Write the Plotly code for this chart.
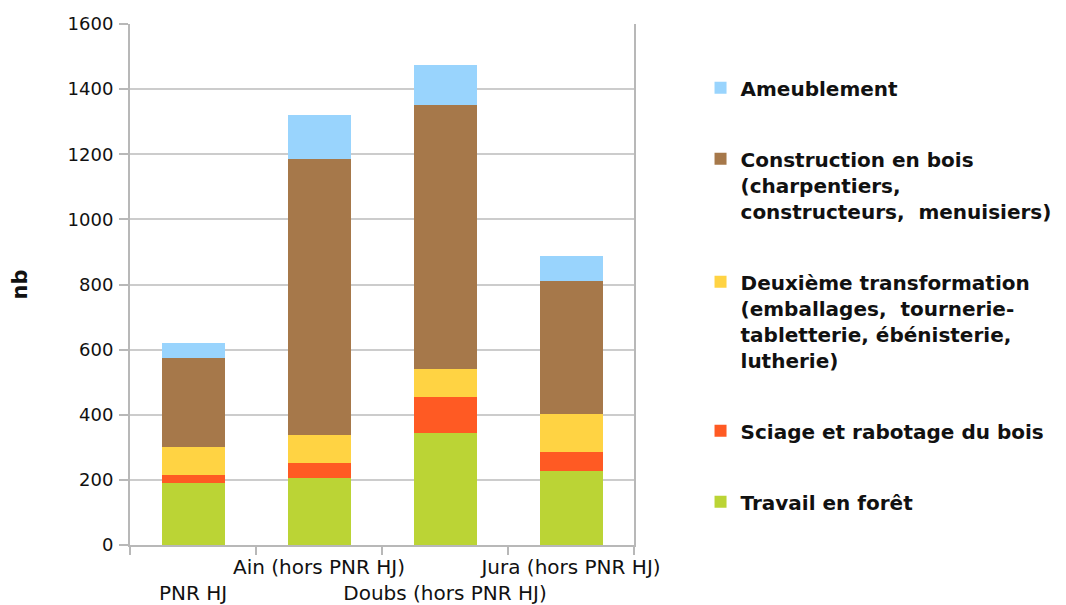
import plotly.graph_objects as go

categories = ["PNR HJ", "Ain (hors PNR HJ)", "Doubs (hors PNR HJ)", "Jura (hors PNR HJ)"]
tick_labels = ["\u00a0<br>PNR HJ", "Ain (hors PNR HJ)", "\u00a0<br>Doubs (hors PNR HJ)", "Jura (hors PNR HJ)"]

series_names = [
    "Travail en forêt",
    "Sciage et rabotage du bois",
    "Deuxième transformation<br>(emballages,  tournerie-<br>tabletterie, ébénisterie,<br>lutherie)",
    "Construction en bois<br>(charpentiers,<br>constructeurs,  menuisiers)",
    "Ameublement",
]
travail = [191, 205, 344, 227]
sciage = [24, 46, 110, 59]
deuxieme = [87, 87, 88, 117]
construction = [271, 846, 810, 409]
ameublement = [46, 136, 123, 75]
series_values = [travail, sciage, deuxieme, construction, ameublement]
colors = ["#bbd435", "#ff5a23", "#ffd343", "#a6784a", "#99d4fd"]

fig = go.Figure()
n = len(series_names)
for i, (name, vals, col) in enumerate(zip(series_names, series_values, colors)):
    fig.add_trace(go.Bar(
        x=categories, y=vals, name=name, marker=dict(color=col, line=dict(width=0)),
        legendgroup=f"g{i}", legendrank=n - i,
    ))

fig.update_layout(
    width=1066, height=605,
    barmode="stack", bargap=0.5,
    plot_bgcolor="white", paper_bgcolor="white",
    margin=dict(l=122, r=440, t=16, b=68, autoexpand=False),
    font=dict(family="DejaVu Sans", color="#111111"),
    showlegend=True,
    legend=dict(
        x=1.132, xanchor="left", y=0.915, yanchor="top",
        traceorder="grouped", tracegroupgap=42,
        valign="top", maxheight=600,
        font=dict(family="DejaVu Sans", size=20, color="#111111", weight="bold"),
    ),
    xaxis=dict(
        type="category", categoryorder="array", categoryarray=categories,
        tickmode="array", tickvals=categories, ticktext=tick_labels,
        tickangle=0, automargin=False,
        tickson="boundaries", ticks="outside", ticklen=8, tickcolor="#b8b8b8", tickwidth=2,
        showline=True, linecolor="#b8b8b8", linewidth=2,
        showgrid=False, ticklabelstandoff=3,
        tickfont=dict(size=20, family="DejaVu Sans", color="#111111"),
    ),
    yaxis=dict(
        range=[0, 1600], dtick=200, tick0=0,
        showgrid=True, gridcolor="#cccccc", gridwidth=2,
        showline=True, linecolor="#b8b8b8", linewidth=2, mirror=True,
        ticks="outside", ticklen=9, tickcolor="#b8b8b8", tickwidth=2,
        ticklabelstandoff=2, automargin=False,
        zeroline=False,
        tickfont=dict(size=18, family="DejaVu Sans", color="#111111"),
        title=dict(text="nb", font=dict(size=21, family="DejaVu Sans", color="#111111", weight="bold"), standoff=36),
    ),
)

fig.write_html("out.html")
